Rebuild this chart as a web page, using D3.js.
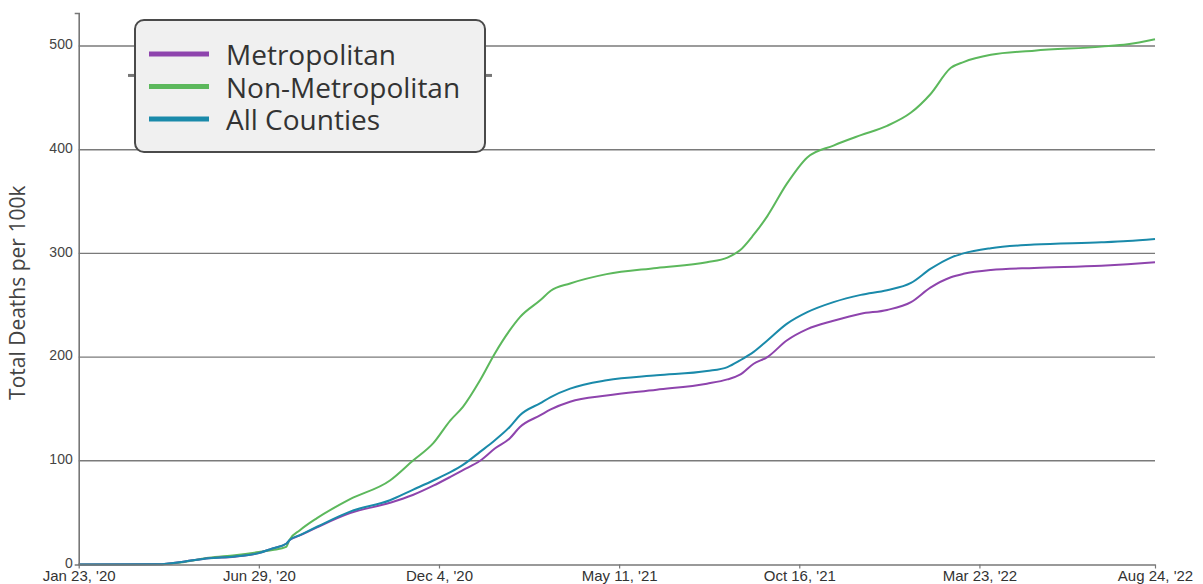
<!DOCTYPE html>
<html>
<head>
<meta charset="utf-8">
<script src="https://cdn.jsdelivr.net/npm/d3@7"></script>
<style>
  html, body { margin: 0; padding: 0; background: #fff; }
  svg { display: block; }
</style>
</head>
<body>
<svg id="chart" width="1203" height="584"></svg>
<script>
// ---- data ----
const dates = ["2020-01-23","2020-04-02","2020-04-25","2020-05-16","2020-06-08","2020-06-29","2020-07-11","2020-07-23","2020-07-26","2020-08-04","2020-08-19","2020-09-17","2020-10-22","2020-11-11","2020-11-29","2020-12-14","2020-12-25","2021-01-09","2021-01-22","2021-02-04","2021-02-13","2021-03-03","2021-03-12","2021-03-29","2021-04-30","2021-06-13","2021-07-27","2021-08-14","2021-08-25","2021-09-06","2021-09-18","2021-10-05","2021-10-23","2021-11-15","2021-12-09","2022-01-01","2022-01-22","2022-02-08","2022-02-26","2022-03-09","2022-04-02","2022-05-10","2022-07-08","2022-07-31","2022-08-24"];
const metropolitan = [0,0.3,3,6,7.5,11,15.5,20,23.5,28,35.8,49.5,59.5,67,76,84.5,91,100,111.8,121.5,132.6,144,149.6,157,163,168.5,174.4,178.5,183,193.6,200,216,227,235,241.8,245.5,253,267,277,280.3,284,286,288,289.5,291.5];
const nonMetropolitan = [0,0.2,2.5,6.5,9,12,14,17,24,33,44.7,63,81,100,117,139,152,177.6,203.5,225.7,238.5,255,264,271,280,286,291.5,296,303,318,336,367,392.5,404,414,423,435.8,453.5,479,484.5,491.5,495.5,499.4,501.6,506.5];
const allCounties = [0,0.3,3,6,7.7,11,15.5,20,23.6,28.4,36.4,51,62,72,81,89,96,108.6,119.8,132.6,144,155.7,161.5,169.6,177.6,182.4,186.5,190.4,196.8,205,216,232,243.3,253,260,264.5,271.5,285,296,300,305,308.5,310.7,312,314];
const seriesNames = ["Metropolitan","Non-Metropolitan","All Counties"];
const seriesColors = ["#8e44ad","#5cb85c","#1a8aaa"];
const xTickDates = ["2020-01-23","2020-06-29","2020-12-04","2021-05-11","2021-10-16","2022-03-23","2022-08-24"];
const yTicks = [0,100,200,300,400,500];
const yLabel = "Total Deaths per 100k";

(function () {
const parse = d3.timeParse("%Y-%m-%d");
const fmt = d3.timeFormat("%b %-d, '%y");
const pLeft = 78.7, pRight = 1155, pTop = 13, pBottom = 564.5;
const svg = d3.select("#chart");

const allValues = [metropolitan, nonMetropolitan, allCounties];
const x = d3.scaleTime()
  .domain([parse(dates[0]), parse(dates[dates.length - 1])])
  .range([pLeft, pRight]);
const yMax = d3.max(allValues.flat()) * 1.05;
const y = d3.scaleLinear().domain([0, yMax]).range([pBottom, pTop]);

// gridlines
svg.append("g")
  .selectAll("line")
  .data(yTicks.filter(d => d > 0))
  .join("line")
  .attr("x1", pLeft).attr("x2", pRight)
  .attr("y1", d => y(d)).attr("y2", d => y(d))
  .attr("stroke", "#7a7a7a")
  .attr("stroke-width", 1.4);

// lines
const line = d3.line()
  .x(d => x(d.date))
  .y(d => y(d.value))
  .curve(d3.curveMonotoneX);

const series = allValues.map((vals, i) => ({
  name: seriesNames[i],
  color: seriesColors[i],
  points: dates.map((d, j) => ({ date: parse(d), value: vals[j] }))
}));

[1, 0, 2].forEach(i => {
  svg.append("path")
    .datum(series[i].points)
    .attr("fill", "none")
    .attr("stroke", series[i].color)
    .attr("stroke-width", 2)
    .attr("d", line);
});

// x axis
const xAxis = d3.axisBottom(x)
  .tickValues(xTickDates.map(parse))
  .tickFormat(fmt)
  .tickSize(4)
  .tickSizeOuter(0);
const gx = svg.append("g")
  .attr("transform", `translate(0,${pBottom})`)
  .call(xAxis);
gx.select(".domain").attr("stroke", "#777").attr("stroke-width", 1.6);
gx.selectAll(".tick line").attr("stroke", "#777").attr("stroke-width", 1.2);
gx.selectAll(".tick text")
  .attr("fill", "#333")
  .attr("font-family", "Liberation Sans, Arial, sans-serif")
  .attr("font-size", 15)
  .attr("dy", "0.85em")
  .attr("y", 4);

// y axis
const yAxis = d3.axisLeft(y)
  .tickValues(yTicks)
  .tickSize(0)
  .tickSizeOuter(4);
const gy = svg.append("g")
  .attr("transform", `translate(${pLeft},0)`)
  .call(yAxis);
gy.select(".domain").attr("stroke", "#777").attr("stroke-width", 1.6);
gy.selectAll(".tick text")
  .attr("fill", "#444")
  .attr("font-family", "Liberation Sans, Arial, sans-serif")
  .attr("font-size", 14)
  .attr("x", -6)
  .attr("dy", "0.2em");

// y label
svg.append("text")
  .attr("transform", `translate(25,${(pTop + pBottom) / 2 + 4}) rotate(-90)`)
  .attr("text-anchor", "middle")
  .attr("fill", "#444")
  .attr("font-family", "Open Sans, sans-serif")
  .attr("font-size", 21)
  .text(yLabel);

// legend
const lg = svg.append("g");
const lx = 135, ly = 20, lw = 350, lh = 132;
lg.append("line").attr("x1", lx - 7).attr("x2", lx).attr("y1", ly + lh * 0.42).attr("y2", ly + lh * 0.42)
  .attr("stroke", "#777").attr("stroke-width", 3);
lg.append("line").attr("x1", lx + lw).attr("x2", lx + lw + 7).attr("y1", ly + lh * 0.42).attr("y2", ly + lh * 0.42)
  .attr("stroke", "#777").attr("stroke-width", 3);
lg.append("rect")
  .attr("x", lx).attr("y", ly).attr("width", lw).attr("height", lh)
  .attr("rx", 9).attr("ry", 9)
  .attr("fill", "#f0f0f0")
  .attr("stroke", "#4a4a4a")
  .attr("stroke-width", 2);
const rowY = d3.scaleLinear().domain([0, 2]).range([54, 119]);
seriesNames.forEach((name, i) => {
  lg.append("line")
    .attr("x1", 149).attr("x2", 209)
    .attr("y1", rowY(i)).attr("y2", rowY(i))
    .attr("stroke", seriesColors[i])
    .attr("stroke-width", 5);
  lg.append("text")
    .attr("x", 226)
    .attr("y", rowY(i) + 11)
    .attr("fill", "#333")
    .attr("font-family", "Open Sans, sans-serif")
    .attr("font-size", 28)
    .text(name);
});
})();
</script>
</body>
</html>
